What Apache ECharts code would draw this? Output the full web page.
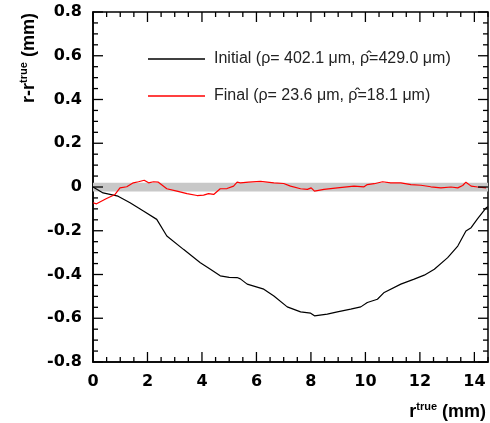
<!DOCTYPE html>
<html><head><meta charset="utf-8">
<script src="https://cdn.jsdelivr.net/npm/echarts@6/dist/echarts.min.js"></script>
<style>html,body{margin:0;padding:0;background:#fff}#c{width:490px;height:423px}</style>
</head><body><div id="c"></div>
<script>
const initialR = [0, 0.37, 0.92, 1.36, 1.85, 2.34, 2.71, 3.32, 3.94, 4.31, 4.67, 5.0, 5.29, 5.41, 5.66, 6.27, 6.64, 7.13, 7.62, 7.99, 8.13, 8.6, 8.97, 9.46, 9.83, 10.07, 10.44, 10.69, 11.3, 11.79, 12.16, 12.53, 13.02, 13.39, 13.69, 13.88, 14.12, 14.43, 14.5];
const initialDelta = [0, -0.027, -0.042, -0.072, -0.11, -0.148, -0.224, -0.285, -0.346, -0.376, -0.406, -0.413, -0.414, -0.42, -0.444, -0.467, -0.498, -0.548, -0.571, -0.577, -0.589, -0.581, -0.571, -0.558, -0.548, -0.528, -0.513, -0.482, -0.444, -0.421, -0.403, -0.376, -0.323, -0.27, -0.201, -0.186, -0.145, -0.095, -0.09];
const finalR = [0, 0.13, 0.48, 0.81, 0.99, 1.24, 1.48, 1.67, 1.88, 2.04, 2.22, 2.4, 2.71, 3.08, 3.45, 3.82, 4.06, 4.24, 4.43, 4.67, 4.92, 5.16, 5.29, 5.41, 5.71, 6.15, 6.64, 7.0, 7.25, 7.62, 7.87, 8.01, 8.13, 8.48, 8.97, 9.58, 9.95, 10.07, 10.32, 10.63, 10.93, 11.3, 11.67, 12.04, 12.4, 12.77, 13.14, 13.39, 13.57, 13.69, 13.88, 14.12, 14.43];
const finalDelta = [-0.072, -0.077, -0.054, -0.034, -0.004, 0.001, 0.019, 0.024, 0.031, 0.019, 0.024, 0.022, -0.008, -0.019, -0.03, -0.039, -0.037, -0.03, -0.034, -0.008, -0.007, 0.004, 0.022, 0.019, 0.022, 0.026, 0.019, 0.016, 0.004, -0.008, -0.011, -0.004, -0.019, -0.011, -0.004, 0.004, 0.001, 0.011, 0.015, 0.024, 0.019, 0.019, 0.011, 0.008, 0.001, -0.004, 0, -0.004, 0.007, 0.022, 0.004, 0, -0.004];
const seriesNames = ['Initial (ρ= 402.1 μm, ρ̂=429.0 μm)', 'Final (ρ= 23.6 μm, ρ̂=18.1 μm)'];
const band = [-0.02, 0.02];
const xRange = [0, 14.5], xStep = 2, xMinorPerMajor = 4;
const yRange = [-0.8, 0.8], yStep = 0.2, yMinorPerMajor = 4;

const zip = (a, b) => a.map((v, i) => [v, b[i]]);
const chart = echarts.init(document.getElementById('c'));
const FONT = 'DejaVu Sans, sans-serif';
const LFONT = 'Liberation Sans, Arial, sans-serif';
const MAJ = 10, MIN = 5;

// inside tick marks, mirrored on all four sides, placed through the axis scales
const tickData = [];
(function () {
  const xm = xStep / xMinorPerMajor;
  for (let i = 0; xRange[0] + i * xm <= xRange[1] + 1e-9; i++) {
    const v = +(xRange[0] + i * xm).toFixed(6);
    const len = (i % xMinorPerMajor === 0) ? MAJ : MIN;
    tickData.push([v, yRange[0], len, 0]);
    tickData.push([v, yRange[1], len, 1]);
  }
  const ym = yStep / yMinorPerMajor;
  for (let i = 0; yRange[0] + i * ym <= yRange[1] + 1e-9; i++) {
    const v = +(yRange[0] + i * ym).toFixed(6);
    const len = (i % yMinorPerMajor === 0) ? MAJ : MIN;
    tickData.push([xRange[0], v, len, 2]);
    tickData.push([xRange[1], v, len, 3]);
  }
})();

chart.setOption({
  animation: false,
  backgroundColor: '#fff',
  grid: { left: 93, right: 2, top: 12, bottom: 61, show: true, borderColor: '#000', borderWidth: 1.5, backgroundColor: 'transparent' },
  xAxis: {
    type: 'value', min: xRange[0], max: xRange[1], interval: xStep,
    axisLine: { show: true, onZero: false, lineStyle: { color: '#000', width: 1.5 } },
    axisTick: { show: false }, minorTick: { show: false },
    splitLine: { show: false }, minorSplitLine: { show: false },
    axisLabel: { show: true, showMaxLabel: false, margin: 12, color: '#000', fontFamily: FONT, fontWeight: 'bold', fontSize: 16 }
  },
  yAxis: {
    type: 'value', min: yRange[0], max: yRange[1], interval: yStep,
    axisLine: { show: true, onZero: false, lineStyle: { color: '#000', width: 1.5 } },
    axisTick: { show: false }, minorTick: { show: false },
    splitLine: { show: false }, minorSplitLine: { show: false },
    axisLabel: { show: true, margin: 11, color: '#000', fontFamily: FONT, fontWeight: 'bold', fontSize: 16,
      formatter: v => Math.abs(v) < 1e-9 ? '0' : v.toFixed(1) }
  },
  legend: {
    left: 143, top: 46, orient: 'vertical', itemGap: 21, itemWidth: 57, itemHeight: 1.5,
    icon: 'rect',
    textStyle: { fontFamily: LFONT, fontSize: 16, color: '#222', padding: [0, 0, 0, 4] },
    data: seriesNames
  },
  series: [
    { name: seriesNames[0], type: 'line', data: zip(initialR, initialDelta), showSymbol: false,
      lineStyle: { color: '#000', width: 1.2 }, itemStyle: { color: '#000' }, z: 5,
      markArea: { silent: true, itemStyle: { color: '#c8c8c8' }, data: [[{ yAxis: band[0] }, { yAxis: band[1] }]] } },
    { name: seriesNames[1], type: 'line', data: zip(finalR, finalDelta), showSymbol: false,
      lineStyle: { color: '#ff0000', width: 1.2 }, itemStyle: { color: '#ff0000' }, z: 6 },
    { type: 'custom', clip: false, z: 8, encode: { x: 0, y: 1 }, data: tickData,
      renderItem: function (params, api) {
        const p = api.coord([api.value(0), api.value(1)]);
        const len = api.value(2), dir = api.value(3);
        let x2 = p[0], y2 = p[1];
        if (dir === 0) y2 -= len; else if (dir === 1) y2 += len; else if (dir === 2) x2 += len; else x2 -= len;
        return { type: 'line', shape: { x1: p[0], y1: p[1], x2: x2, y2: y2 }, style: { stroke: '#000', lineWidth: 1.3 } };
      } }
  ],
  graphic: [
    { type: 'text', x: 28, y: 58, rotation: Math.PI / 2,
      style: { text: '{a|r-r}{s|true}{a| (mm)}', align: 'center', verticalAlign: 'middle',
        rich: { a: { fontFamily: LFONT, fontWeight: 'bold', fontSize: 18, fill: '#000', verticalAlign: 'bottom', lineHeight: 20 },
                s: { fontFamily: LFONT, fontWeight: 'bold', fontSize: 11, fill: '#000', verticalAlign: 'top', lineHeight: 20 } } } },
    { type: 'text', x: 486, y: 411,
      style: { text: '{a|r}{s|true}{a| (mm)}', align: 'right', verticalAlign: 'middle',
        rich: { a: { fontFamily: LFONT, fontWeight: 'bold', fontSize: 18, fill: '#000', verticalAlign: 'bottom', lineHeight: 20 },
                s: { fontFamily: LFONT, fontWeight: 'bold', fontSize: 11, fill: '#000', verticalAlign: 'top', lineHeight: 20 } } } }
  ]
});
</script>
</body></html>
